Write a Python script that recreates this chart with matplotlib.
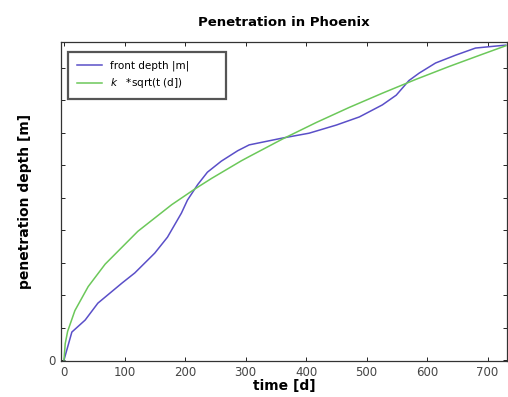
import matplotlib
matplotlib.use('Agg')
from matplotlib import pyplot as plt

# values (y in tick units, only "0" is labelled)
t_front = [0, 13, 35, 56, 96, 117, 150, 171, 194, 204, 221, 237, 260, 287, 306,
           361, 405, 450, 488, 526, 549, 570, 587, 614, 647, 680, 713, 730]
depth_front = [0, 0.86, 1.23, 1.75, 2.37, 2.68, 3.29, 3.78, 4.52, 4.92, 5.40, 5.78,
               6.12, 6.44, 6.62, 6.83, 6.98, 7.23, 7.48, 7.85, 8.15, 8.60, 8.83,
               9.14, 9.38, 9.60, 9.66, 9.69]

t_fit = [0, 2, 6, 18, 40, 68, 122, 178, 216, 244, 293, 306, 361, 417, 471, 526,
         582, 636, 690, 730]
depth_fit = [0, 0.50, 0.88, 1.52, 2.26, 2.95, 3.96, 4.78, 5.26, 5.59, 6.13, 6.26,
             6.80, 7.31, 7.77, 8.21, 8.64, 9.03, 9.40, 9.67]

xticks = [0, 100, 200, 300, 400, 500, 600, 700]
yticks = list(range(0, 10))

fig = plt.figure(figsize=(5.08, 3.97), dpi=100)
ax = fig.add_axes([0.120, 0.0907, 0.878, 0.803])

ax.plot(t_front, depth_front, color='#5a4fc8', lw=1.1, label='front depth |m|')
ax.plot(t_fit, depth_fit, color='#6cc85a', lw=1.1, label=r'$k$   *sqrt(t (d])')

ax.set_xlim(-5, 732)
ax.set_ylim(-0.03, 9.78)
ax.set_xticks(xticks)
ax.set_yticks(yticks)
ax.set_yticklabels(['0'] + [''] * (len(yticks) - 1))
ax.tick_params(direction='in', top=True, right=True, labelsize=8.5,
               labelcolor='#444444', length=3, width=0.6)
for s in ax.spines.values():
    s.set_color('#333333')
    s.set_linewidth(0.9)

ax.set_title('Penetration in Phoenix', fontsize=9.5, fontweight='bold', pad=12)
ax.set_xlabel('time [d]', fontsize=10, fontweight='bold', labelpad=0)
ax.set_ylabel('penetration depth [m]', fontsize=10, fontweight='bold', labelpad=12)

leg = ax.legend(loc='upper left', fontsize=7.5, fancybox=False, framealpha=1,
                edgecolor='#555555', borderpad=0.85, handlelength=2.4,
                bbox_to_anchor=(0.0157, 0.81, 0.354, 0.16), mode='expand',
                borderaxespad=0)
leg.get_frame().set_linewidth(1.6)

fig.savefig('out.png', dpi=100)
